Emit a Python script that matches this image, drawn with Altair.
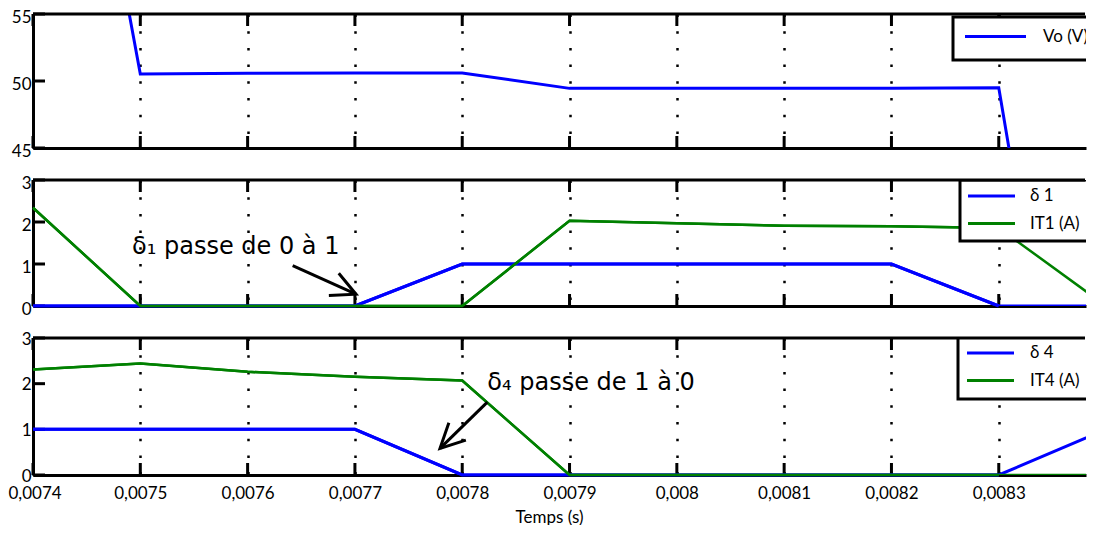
import altair as alt
import pandas as pd

# ---------------- data ----------------
T = [0.0074, 0.0075, 0.0076, 0.0077, 0.0078, 0.0079, 0.0080, 0.0081, 0.0082, 0.0083, 0.0084]
VO = [94.0, 50.52, 50.58, 50.6, 50.6, 49.45, 49.45, 49.45, 49.45, 49.5, 2.0]
D1 = [0, 0, 0, 0, 1, 1, 1, 1, 1, 0, 0]
IT1 = [2.34, 0, 0, 0, 0, 2.03, 1.97, 1.91, 1.90, 1.86, 0.0]
D4 = [1, 1, 1, 1, 0, 0, 0, 0, 0, 0, 1]
IT4 = [2.31, 2.44, 2.26, 2.15, 2.07, 0, 0, 0, 0, 0, 0]

X_TICKS = [0.0074, 0.0075, 0.0076, 0.0077, 0.0078, 0.0079, 0.0080, 0.0081, 0.0082, 0.0083]
X_DOMAIN = [0.0074, 0.0083813]
Y1_TICKS = [45, 50, 55]
Y1_DOMAIN = [45, 55]
Y23_TICKS = [0, 1, 2, 3]
Y23_DOMAIN = [0, 3]

SERIES1 = ["Vo (V)"]
SERIES2 = ["δ 1", "IT1 (A)"]
SERIES3 = ["δ 4", "IT4 (A)"]
X_TITLE = "Temps (s)"

NOTE1_TEXT = ["δ₁ passe de 0 à 1"]
NOTE1_T = [0.0074923]
NOTE1_V = [1.24]
ARROW1_TAIL_T = [0.007642]
ARROW1_TAIL_V = [0.96]
ARROW1_TIP_T = [0.007701]
ARROW1_TIP_V = [0.28]

NOTE2_TEXT = ["δ₄ passe de 1 à 0"]
NOTE2_T = [0.0078234]
NOTE2_V = [1.87]
ARROW2_TAIL_T = [0.0078234]
ARROW2_TAIL_V = [1.595]
ARROW2_TIP_T = [0.0077793]
ARROW2_TIP_V = [0.583]

# ---------------- style ----------------
W = 1053
H1, H2, H3 = 134, 126, 137
BLUE, GREEN = "#0000FF", "#008000"
ARROW_SHAPE = "M -1 -0.5 L 0 0 L -1 0.5"
DUMMY = pd.DataFrame({"k": [0]})

xscale = alt.Scale(domain=X_DOMAIN, nice=False, zero=False)


def x_enc(show_labels):
    common = dict(values=X_TICKS, grid=True, gridColor="black", gridDash=[2.5, 14.2],
                  gridWidth=2.5, gridOpacity=1, ticks=False, domainColor="black",
                  domainWidth=3)
    if show_labels:
        ax = alt.Axis(labels=True,
                      labelExpr="replace(format(datum.value, '.4~f'), '.', ',')",
                      labelFont="Lato", labelFontSize=17, labelPadding=10,
                      labelFlush=5, labelFlushOffset=25,
                      labelOverlap=False, labelColor="black",
                      title=X_TITLE, titleFont="Lato", titleFontSize=17,
                      titleFontWeight="normal", titleColor="black",
                      titleX=516, titleY=34, titleBaseline="top", **common)
    else:
        ax = alt.Axis(labels=False, title=None, **common)
    return alt.X("t:Q", scale=xscale, axis=ax)


def y_enc(domain, ticks, offset=3):
    return alt.Y("v:Q", scale=alt.Scale(domain=domain, nice=False, zero=False),
                 axis=alt.Axis(values=ticks, grid=False, ticks=False, labelFont="Lato",
                               labelFontSize=17, labelPadding=2, labelOffset=offset,
                               labelOverlap=False, labelFlush=False, labelColor="black",
                               format="d", title=None, domainColor="black", domainWidth=3))


def frame(h, xe, ye, yticks):
    xt = pd.DataFrame({"t": X_TICKS})
    yt = pd.DataFrame({"v": yticks})
    ytick = alt.Chart(yt).mark_rule(color="black", strokeWidth=3).encode(
        y=ye, x=alt.value(0), x2=alt.value(12))
    top = alt.Chart(xt).mark_rule(color="black", strokeWidth=3).encode(
        x=xe, y=alt.value(0), y2=alt.value(12))
    bot = alt.Chart(xt).mark_rule(color="black", strokeWidth=3).encode(
        x=xe, y=alt.value(h - 12), y2=alt.value(h))
    return [ytick, top, bot]


def top_border():
    return alt.Chart(DUMMY).mark_rule(color="black", strokeWidth=3).encode(
        x=alt.value(0), x2=alt.value(W - 1), y=alt.value(0))


def series(values, color, width, xe, ye, split=True):
    df = pd.DataFrame({"t": T, "v": values})
    clipped = alt.Chart(df).mark_line(color=color, strokeWidth=width, clip=True).encode(x=xe, y=ye)
    if not split:
        return [clipped]
    inner = alt.Chart(df).transform_filter("datum.t <= 0.00831").mark_line(
        color=color, strokeWidth=width).encode(x=xe, y=ye)
    return [clipped, inner]


def legend(box_x, box_y0, box_y1, line_x0, line_x1, text_x, entries):
    layers = [alt.Chart(DUMMY).mark_rect(fill="white", stroke="black", strokeWidth=3, clip=True).encode(
        x=alt.value(box_x), x2=alt.value(W + 3), y=alt.value(box_y0), y2=alt.value(box_y1))]
    for label, color, ypos in entries:
        layers.append(alt.Chart(DUMMY).mark_rule(color=color, strokeWidth=3).encode(
            x=alt.value(line_x0), x2=alt.value(line_x1), y=alt.value(ypos)))
        layers.append(alt.Chart(DUMMY).mark_text(
            align="left", baseline="middle", font="Lato", fontSize=17, color="black", clip=True,
            text=label).encode(x=alt.value(text_x), y=alt.value(ypos)))
    return layers


def annotation(note_t, note_v, note_text, tail_t, tail_v, tip_t, tip_v, angle, xe, ye):
    ndf = pd.DataFrame({"t": note_t, "v": note_v, "label": note_text})
    adf = pd.DataFrame({"t": tail_t, "v": tail_v, "t2": tip_t, "v2": tip_v})
    hdf = pd.DataFrame({"t": tip_t, "v": tip_v})
    txt = alt.Chart(ndf).mark_text(align="left", baseline="alphabetic", font="DejaVu Sans",
                                   fontSize=24, color="black").encode(x=xe, y=ye, text="label:N")
    shaft = alt.Chart(adf).mark_rule(color="black", strokeWidth=3).encode(
        x=xe, y=ye, x2="t2:Q", y2="v2:Q")
    head = alt.Chart(hdf).mark_point(shape=ARROW_SHAPE, filled=False, size=2360, angle=angle,
                                     color="black", strokeWidth=3, opacity=1).encode(x=xe, y=ye)
    return [txt, shaft, head]


# ---- panel 1 : Vo ----
xe1 = x_enc(False)
ye1 = y_enc(Y1_DOMAIN, Y1_TICKS)
p1_layers = (frame(H1, xe1, ye1, Y1_TICKS)
             + series(VO, BLUE, 3, xe1, ye1, split=False)
             + legend(920, 3, 46, 932, 993, 1010, [(SERIES1[0], BLUE, 22.5)])
             + [top_border()])
p1 = alt.layer(*p1_layers).properties(width=W, height=H1)

# ---- panel 2 : delta1 / IT1 ----
xe2 = x_enc(False)
ye2 = y_enc(Y23_DOMAIN, Y23_TICKS)
p2_layers = (frame(H2, xe2, ye2, Y23_TICKS)
             + series(D1, BLUE, 3, xe2, ye2)
             + series(IT1, GREEN, 2.5, xe2, ye2)
             + annotation(NOTE1_T, NOTE1_V, NOTE1_TEXT, ARROW1_TAIL_T, ARROW1_TAIL_V,
                          ARROW1_TIP_T, ARROW1_TIP_V, 24, xe2, ye2)
             + legend(927, 0, 61, 935, 982, 997,
                      [(SERIES2[0], BLUE, 16), (SERIES2[1], GREEN, 43.5)])
             + [top_border()])
p2 = alt.layer(*p2_layers).properties(width=W, height=H2)

# ---- panel 3 : delta4 / IT4 ----
xe3 = x_enc(True)
ye3 = y_enc(Y23_DOMAIN, Y23_TICKS, offset=1)
p3_layers = (frame(H3, xe3, ye3, Y23_TICKS)
             + series(D4, BLUE, 3, xe3, ye3)
             + series(IT4, GREEN, 2.5, xe3, ye3)
             + annotation(NOTE2_T, NOTE2_V, NOTE2_TEXT, ARROW2_TAIL_T, ARROW2_TAIL_V,
                          ARROW2_TIP_T, ARROW2_TIP_V, 135.6, xe3, ye3)
             + legend(925, -2, 61, 934, 981, 997,
                      [(SERIES3[0], BLUE, 15), (SERIES3[1], GREEN, 42.5)])
             + [top_border()])
p3 = alt.layer(*p3_layers).properties(width=W, height=H3)

chart = (alt.vconcat(p1, p2, p3, spacing=32, bounds="flush")
         .properties(padding={"left": 0, "top": 0, "right": 0, "bottom": 0}, background="white")
         .configure_view(stroke=None))

chart.save("out.html", embed_options={"renderer": "svg", "actions": False})
